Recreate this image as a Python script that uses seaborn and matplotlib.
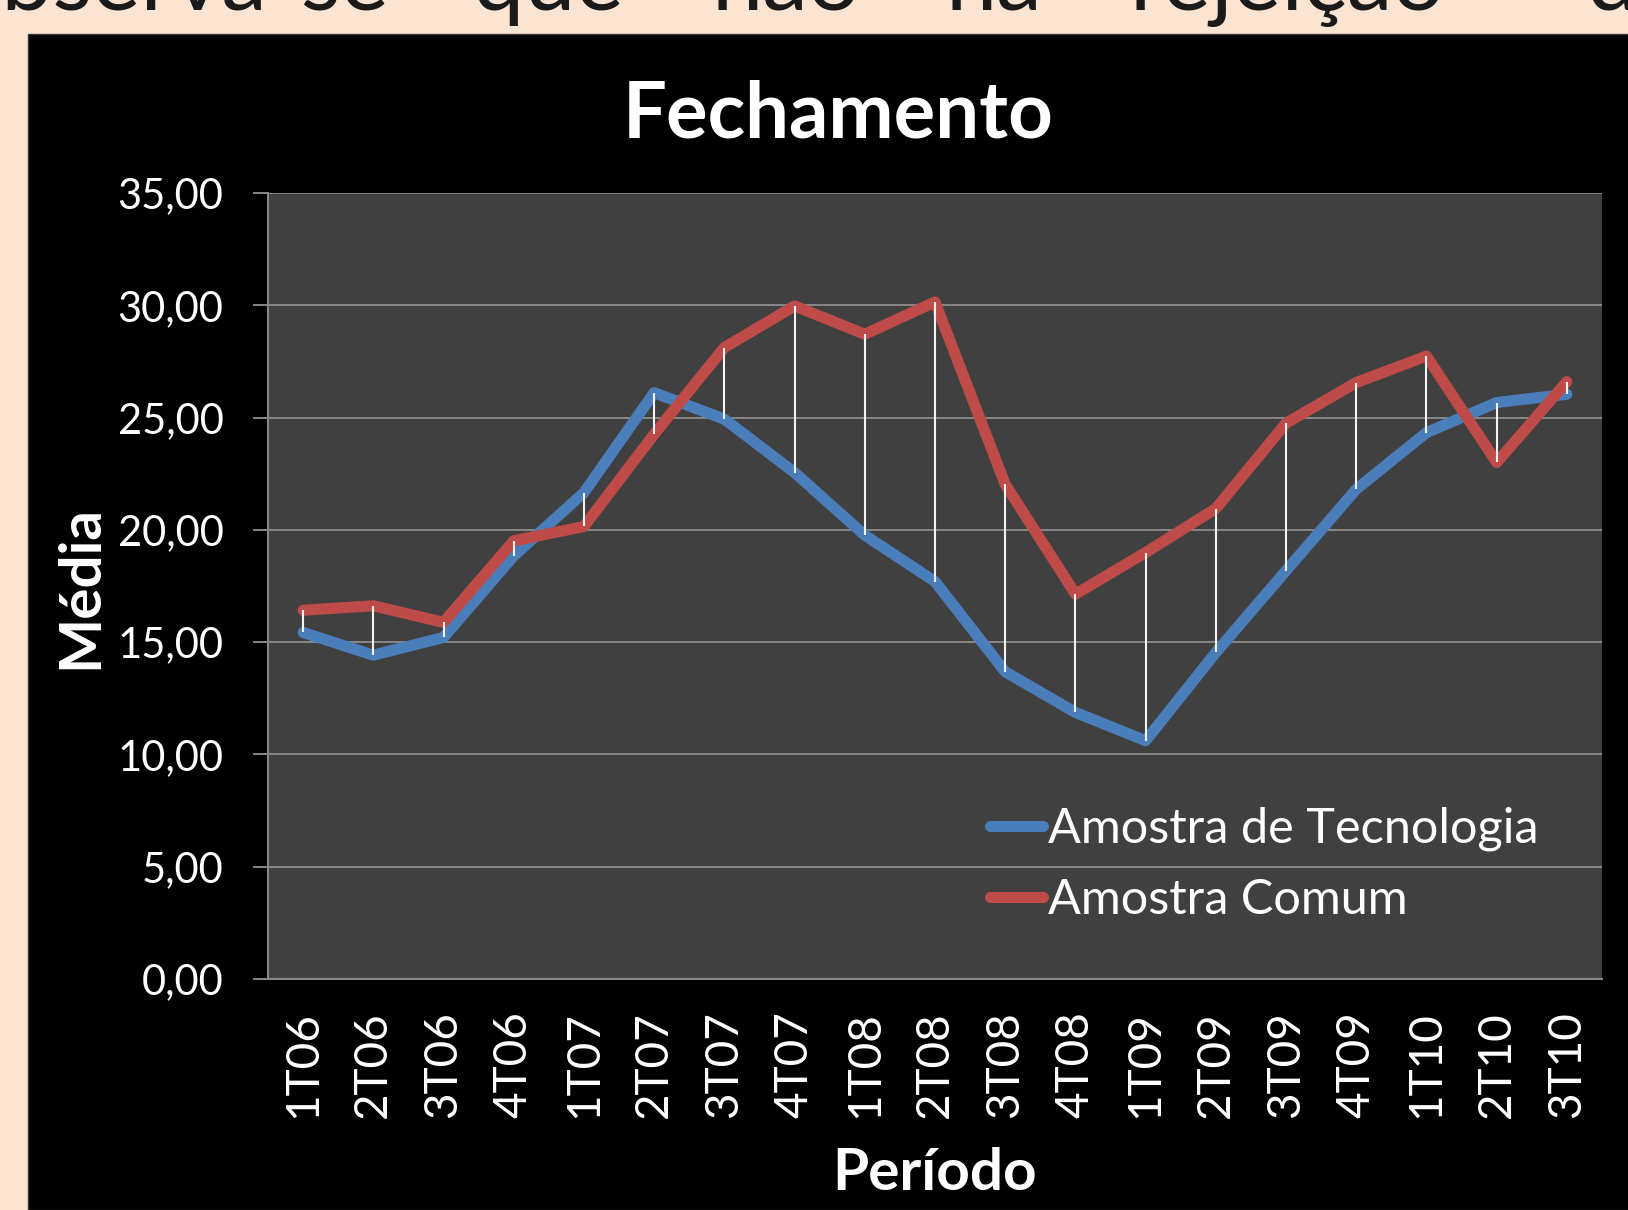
import numpy as np
import pandas as pd
import matplotlib
matplotlib.use("Agg")
import matplotlib.pyplot as plt
from matplotlib.patches import Rectangle
import seaborn as sns

periodos = ['1T06', '2T06', '3T06', '4T06', '1T07', '2T07', '3T07', '4T07', '1T08', '2T08',
            '3T08', '4T08', '1T09', '2T09', '3T09', '4T09', '1T10', '2T10', '3T10']
tecnologia = [15.43, 14.42, 15.21, 18.84, 21.66, 26.11, 24.93, 22.55, 19.76, 17.70,
              13.68, 11.87, 10.61, 14.54, 18.18, 21.81, 24.33, 25.67, 26.04]
comum = [16.42, 16.62, 15.88, 19.51, 20.15, 24.26, 28.12, 29.97, 28.71, 30.15,
         22.03, 17.14, 18.99, 20.95, 24.75, 26.56, 27.74, 23.00, 26.60]
series = ['Amostra de Tecnologia', 'Amostra Comum']
cores = ['#4A7EBB', '#BE4B48']
yticks = [0, 5, 10, 15, 20, 25, 30, 35]

# texto do slide (cortado no topo)
palavras = ['Observa-se', 'que', 'não', 'há', 'rejeição', 'da']

sns.set_theme(style="dark")
plt.rcParams['font.family'] = ['Lato', 'DejaVu Sans']

W, H = 1628, 1210
fig = plt.figure(figsize=(W / 100, H / 100), dpi=100, facecolor='#FCE4D2')
fig.patches.append(Rectangle((28 / W, 0), 1, 1 - 34 / H, transform=fig.transFigure,
                             facecolor='black', edgecolor='#3a3a3a', lw=1, zorder=-10))

# palavras do texto de cima, justificado
pos_palavras = [(390, 'right'), (473, 'left'), (711, 'left'), (945, 'left'),
                (1130, 'left'), (1587, 'left')]
for p, (x, ha) in zip(palavras, pos_palavras):
    fig.text(x / W, 1 - 10 / H, p, ha=ha, va='baseline', fontsize=66, color='#1a1a1a')

ax = fig.add_axes([268 / W, 1 - 979 / H, 1334 / W, 786 / H])
ax.set_facecolor('#404040')

idx = np.arange(len(periodos))
df = pd.DataFrame({
    'pos': np.concatenate([idx, idx]),
    'valor': tecnologia + comum,
    'serie': [series[0]] * len(idx) + [series[1]] * len(idx),
})
sns.lineplot(data=df, x='pos', y='valor', hue='serie', palette=cores, ax=ax,
             sort=False, zorder=3)
for ln in ax.lines:
    ln.set_linewidth(8)
    ln.set_solid_capstyle('round')
    ln.set_solid_joinstyle('round')

# linhas de máximo/mínimo
lo = np.minimum(tecnologia, comum)
hi = np.maximum(tecnologia, comum)
ax.vlines(idx, lo, hi, color='#f2f2f2', lw=1.5, zorder=4)

ax.set_xlim(-0.5, len(periodos) - 0.5)
ax.set_ylim(0, 35)
ax.set_yticks(yticks)
ax.set_yticklabels([f'{v:.2f}'.replace('.', ',') for v in yticks])
ax.set_xticks(idx)
ax.set_xticklabels(periodos, rotation=90)
ax.set_xlabel('')
ax.set_ylabel('')

ax.set_axisbelow(True)
ax.yaxis.grid(True, color='#878787', lw=1.4)
ax.xaxis.grid(False)
for s in ['top', 'right']:
    ax.spines[s].set_visible(False)
for s in ['left', 'bottom']:
    ax.spines[s].set_visible(True)
    ax.spines[s].set_color('#878787')
    ax.spines[s].set_linewidth(1.5)
ax.tick_params(axis='y', colors='#878787', length=11, width=1.4, direction='out',
               pad=21, labelsize=30, labelcolor='white', left=True)
ax.tick_params(axis='x', length=0, pad=23, labelsize=33, labelcolor='white')

h, l = ax.get_legend_handles_labels()
leg = ax.legend(h, l, loc='upper left', bbox_to_anchor=(0.541, 0.219), frameon=False,
                fontsize=35, labelcolor='white', handlelength=1.1, handletextpad=0.1,
                borderpad=0, borderaxespad=0, labelspacing=0.55)
for ln in leg.get_lines():
    ln.set_linewidth(8)
    ln.set_solid_capstyle('round')

fig.text(838 / W, 1 - 137 / H, 'Fechamento', ha='center', va='baseline',
         fontsize=56, fontweight='bold', color='white')
fig.text(935 / W, 1 - 1190 / H, 'Período', ha='center', va='baseline',
         fontsize=42, fontweight='bold', color='white')
fig.text(97 / W, 1 - 587 / H, 'Média', ha='center', va='baseline', rotation=90,
         rotation_mode='anchor', fontsize=42, fontweight='bold', color='white')

fig.savefig('out.png', dpi=100, facecolor=fig.get_facecolor())
